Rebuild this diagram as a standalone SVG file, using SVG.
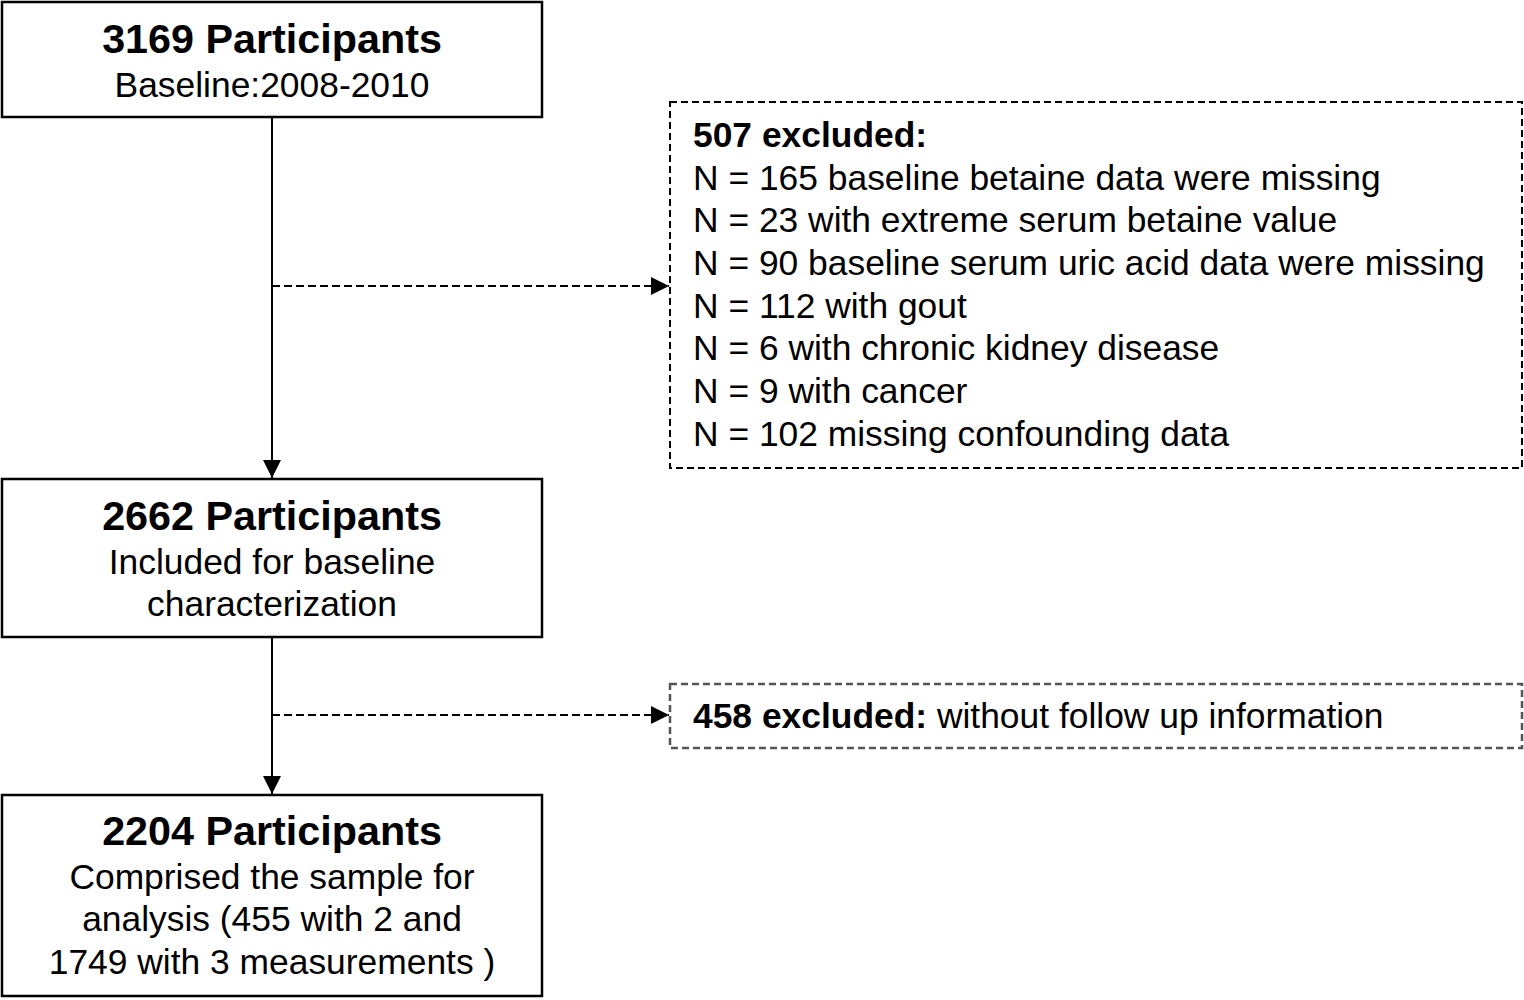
<svg xmlns="http://www.w3.org/2000/svg" width="1524" height="1000" viewBox="0 0 1524 1000">
<defs>
<style>
.box{fill:#fff;stroke:#000;stroke-width:2.5}
.dbox{fill:#fff;stroke:#000;stroke-width:2;stroke-dasharray:7 4}
.dbox2{fill:#fff;stroke:#555;stroke-width:2.5;stroke-dasharray:7 4}
.t{font-family:"Liberation Sans",Arial,sans-serif;fill:#000}
.h{font-size:41.3px;font-weight:bold;text-anchor:middle}
.r{font-size:35.4px;text-anchor:middle}
.l{font-size:35.4px}
.b{font-weight:bold}
.line{stroke:#000;stroke-width:2;fill:none}
.dash{stroke:#000;stroke-width:2;fill:none;stroke-dasharray:8 4}
</style>
<marker id="ah2" viewBox="0 0 10 10" refX="10" refY="5" markerWidth="18" markerHeight="18" markerUnits="userSpaceOnUse" orient="auto">
<path d="M0,0 L10,5 L0,10 z" fill="#000"/>
</marker>
</defs>
<rect width="1524" height="1000" fill="#fff"/>
<g id="connectors">
<line class="line" x1="272" y1="117" x2="272" y2="478" marker-end="url(#ah2)"/>
<line class="dash" x1="272" y1="286" x2="669" y2="286" marker-end="url(#ah2)"/>
<line class="line" x1="272" y1="637" x2="272" y2="794" marker-end="url(#ah2)"/>
<line class="dash" x1="272" y1="715" x2="669" y2="715" marker-end="url(#ah2)"/>
</g>
<g id="node1">
<rect class="box" x="2" y="2" width="540" height="115"/>
<text class="t h" x="272" y="53">3169 Participants</text>
<text class="t r" x="272" y="97">Baseline:2008-2010</text>
</g>
<g id="node2">
<rect class="box" x="2" y="479" width="540" height="158"/>
<text class="t h" x="272" y="530">2662 Participants</text>
<text class="t r" x="272" y="574">Included for baseline</text>
<text class="t r" x="272" y="616">characterization</text>
</g>
<g id="node3">
<rect class="box" x="2" y="795" width="540" height="201"/>
<text class="t h" x="272" y="845">2204 Participants</text>
<text class="t r" x="272" y="889">Comprised the sample for</text>
<text class="t r" x="272" y="931">analysis (455 with 2 and</text>
<text class="t r" x="272" y="974">1749 with 3 measurements )</text>
</g>
<g id="excl1">
<rect class="dbox" x="670" y="102" width="852" height="366"/>
<text class="t l b" x="693" y="147">507 excluded:</text>
<text class="t l" x="693" y="190">N = 165 baseline betaine data were missing</text>
<text class="t l" x="693" y="232">N = 23 with extreme serum betaine value</text>
<text class="t l" x="693" y="275">N = 90 baseline serum uric acid data were missing</text>
<text class="t l" x="693" y="318">N = 112 with gout</text>
<text class="t l" x="693" y="360">N = 6 with chronic kidney disease</text>
<text class="t l" x="693" y="403">N = 9 with cancer</text>
<text class="t l" x="693" y="446">N = 102 missing confounding data</text>
</g>
<g id="excl2">
<rect class="dbox2" x="670" y="684" width="852" height="64"/>
<text class="t l" x="693" y="728"><tspan class="b">458 excluded:</tspan> without follow up information</text>
</g>
</svg>
